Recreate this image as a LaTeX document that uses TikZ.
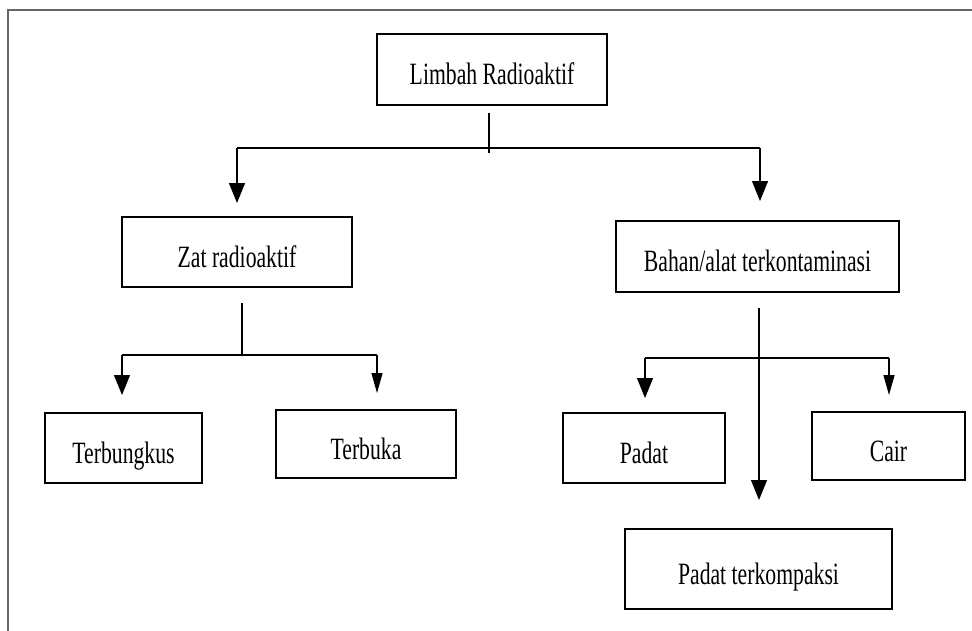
\documentclass[tikz,border=0pt]{standalone}
\usepackage{fontspec}
\setmainfont{Liberation Serif}[FakeStretch=0.7]
\usetikzlibrary{arrows.meta}
\definecolor{framegray}{HTML}{666666}
\begin{document}
\begin{tikzpicture}[x=1pt,y=-1pt,
  bx/.style={draw=black, line width=2.6pt, inner sep=0pt, text height=30pt, text depth=0pt,
    font=\fontsize{31}{36}\selectfont},
  conn/.style={draw=black, line width=1.2pt},
  arr/.style={conn, -{Triangle[width=16pt,length=20pt]}},
  arrn/.style={conn, -{Triangle[width=11pt,length=20pt]}}]
\useasboundingbox (0,0) rectangle (972,630);
% frame
\draw[framegray, line width=2pt] (8,640) -- (8,10) -- (980,10);
% boxes
\node[bx, minimum width=230pt, minimum height=71pt] (limbah) at (492,69.5) {Limbah Radioaktif};
\node[bx, minimum width=230pt, minimum height=70pt] (zat) at (237,252) {Zat radioaktif};
\node[bx, minimum width=283pt, minimum height=71pt] (bahan) at (757.5,256.5) {Bahan/alat terkontaminasi};
\node[bx, minimum width=157pt, minimum height=70pt] (terbungkus) at (123.5,448) {Terbungkus};
\node[bx, minimum width=180pt, minimum height=68pt] (terbuka) at (366,444) {Terbuka};
\node[bx, minimum width=162pt, minimum height=70pt] (padat) at (644,448) {Padat};
\node[bx, minimum width=153pt, minimum height=68pt] (cair) at (888.5,446) {Cair};
\node[bx, minimum width=267pt, minimum height=80pt] (kompak) at (758.5,569) {Padat terkompaksi};
% top branch
\coordinate (t0) at (489,113);
\coordinate (t1) at (489,153);
\coordinate (tl) at (237,148);
\coordinate (tr) at (760,148);
\coordinate (tla) at (237,203);
\coordinate (tra) at (760,201);
\draw[conn] (t0) -- (t1);
\draw[conn] (tl) -- (tr);
\draw[arr] (tl) -- (tla);
\draw[arr] (tr) -- (tra);
% left branch
\coordinate (l0) at (242,303);
\coordinate (lm) at (242,355);
\coordinate (ll) at (122,355);
\coordinate (lr) at (377,355);
\coordinate (lla) at (122,395);
\coordinate (lra) at (377,393);
\draw[conn] (l0) -- (lm);
\draw[conn] (ll) -- (lr);
\draw[arr] (ll) -- (lla);
\draw[arrn] (lr) -- (lra);
% right branch
\coordinate (r0) at (759,308);
\coordinate (rc) at (759,500);
\coordinate (rl) at (645,358);
\coordinate (rr) at (889,358);
\coordinate (rla) at (645,398);
\coordinate (rra) at (889,395);
\draw[arr] (r0) -- (rc);
\draw[conn] (rl) -- (rr);
\draw[arr] (rl) -- (rla);
\draw[arrn] (rr) -- (rra);
\end{tikzpicture}
\end{document}
